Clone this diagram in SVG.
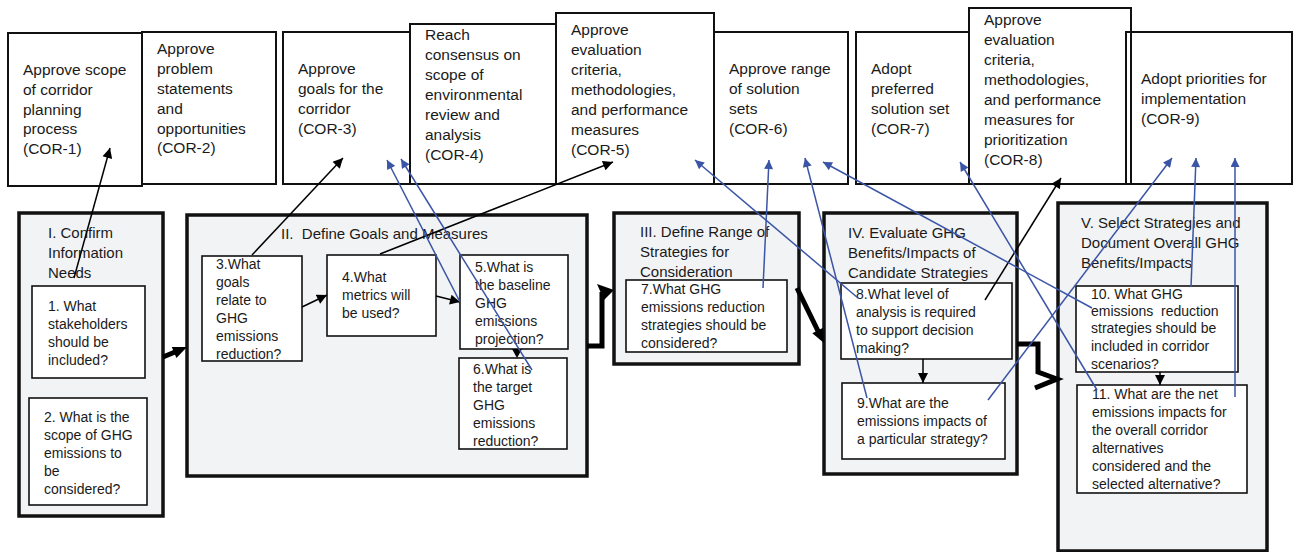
<svg xmlns="http://www.w3.org/2000/svg" width="1295" height="552" viewBox="0 0 1295 552">
  <style>
    text { font-family: "Liberation Sans", Arial, sans-serif; fill: #1a1a1a; }
    .top { font-size: 15.5px; }
    .ttl { font-size: 15px; }
    .q { font-size: 14px; }
    .cor { fill: none; stroke: #111; stroke-width: 2; }
    .phase { fill: #f2f3f5; stroke: #111; stroke-width: 3.5; }
    .qbox { fill: #fff; stroke: #111; stroke-width: 1.6; }
    .blk { fill: none; stroke: #000; stroke-width: 1.5; }
    .blu { fill: none; stroke: #3b55a6; stroke-width: 1.5; }
    .flow { fill: none; stroke: #000; stroke-width: 5; stroke-linejoin: miter; }
  </style>
  <defs>
    <marker id="ahK" viewBox="0 0 10 10" refX="10" refY="5" markerWidth="11" markerHeight="10" markerUnits="userSpaceOnUse" orient="auto">
      <path d="M0,0 L10,5 L0,10 z" fill="#000"/>
    </marker>
    <marker id="ahB" viewBox="0 0 10 10" refX="10" refY="5" markerWidth="11" markerHeight="9" markerUnits="userSpaceOnUse" orient="auto">
      <path d="M0,0 L10,5 L0,10 z" fill="#3b55a6"/>
    </marker>
  </defs>

  <!-- Corridor decision points -->
  <g id="cor1">
    <rect class="cor" x="8" y="33" width="134" height="153"/>
    <text class="top"><tspan x="23" y="75">Approve scope</tspan><tspan x="23" y="95">of corridor</tspan><tspan x="23" y="115">planning</tspan><tspan x="23" y="134">process</tspan><tspan x="23" y="154">(COR-1)</tspan></text>
  </g>
  <g id="cor2">
    <rect class="cor" x="142" y="32" width="134" height="152"/>
    <text class="top"><tspan x="157" y="54">Approve</tspan><tspan x="157" y="74">problem</tspan><tspan x="157" y="94">statements</tspan><tspan x="157" y="114">and</tspan><tspan x="157" y="134">opportunities</tspan><tspan x="157" y="153">(COR-2)</tspan></text>
  </g>
  <g id="cor3">
    <rect class="cor" x="283" y="32" width="127" height="152"/>
    <text class="top"><tspan x="298" y="74">Approve</tspan><tspan x="298" y="94">goals for the</tspan><tspan x="298" y="114">corridor</tspan><tspan x="298" y="134">(COR-3)</tspan></text>
  </g>
  <g id="cor4">
    <rect class="cor" x="410" y="24" width="146" height="160"/>
    <text class="top"><tspan x="425" y="40">Reach</tspan><tspan x="425" y="60">consensus on</tspan><tspan x="425" y="80">scope of</tspan><tspan x="425" y="100">environmental</tspan><tspan x="425" y="120">review and</tspan><tspan x="425" y="140">analysis</tspan><tspan x="425" y="160">(COR-4)</tspan></text>
  </g>
  <g id="cor5">
    <rect class="cor" x="556" y="13" width="158" height="171"/>
    <text class="top"><tspan x="571" y="35">Approve</tspan><tspan x="571" y="55">evaluation</tspan><tspan x="571" y="75">criteria,</tspan><tspan x="571" y="95">methodologies,</tspan><tspan x="571" y="115">and performance</tspan><tspan x="571" y="135">measures</tspan><tspan x="571" y="155">(COR-5)</tspan></text>
  </g>
  <g id="cor6">
    <rect class="cor" x="714" y="32" width="134" height="152"/>
    <text class="top"><tspan x="729" y="74">Approve range</tspan><tspan x="729" y="94">of solution</tspan><tspan x="729" y="114">sets</tspan><tspan x="729" y="134">(COR-6)</tspan></text>
  </g>
  <g id="cor7">
    <rect class="cor" x="856" y="32" width="113" height="152"/>
    <text class="top"><tspan x="871" y="74">Adopt</tspan><tspan x="871" y="94">preferred</tspan><tspan x="871" y="114">solution set</tspan><tspan x="871" y="134">(COR-7)</tspan></text>
  </g>
  <g id="cor8">
    <rect class="cor" x="969" y="8" width="162" height="176"/>
    <text class="top"><tspan x="984" y="25">Approve</tspan><tspan x="984" y="45">evaluation</tspan><tspan x="984" y="65">criteria,</tspan><tspan x="984" y="85">methodologies,</tspan><tspan x="984" y="105">and performance</tspan><tspan x="984" y="125">measures for</tspan><tspan x="984" y="145">prioritization</tspan><tspan x="984" y="165">(COR-8)</tspan></text>
  </g>
  <g id="cor9">
    <rect class="cor" x="1126" y="32" width="166" height="152"/>
    <text class="top"><tspan x="1141" y="84">Adopt priorities for</tspan><tspan x="1141" y="104">implementation</tspan><tspan x="1141" y="124">(COR-9)</tspan></text>
  </g>

  <!-- Phase I -->
  <g id="phase1">
    <rect class="phase" x="19" y="213" width="144" height="303"/>
    <text class="ttl"><tspan x="48" y="238">I.  Confirm</tspan><tspan x="48" y="258">Information</tspan><tspan x="48" y="278">Needs</tspan></text>
  </g>
  <g id="q1">
    <rect class="qbox" x="32" y="286" width="113" height="92"/>
    <text class="q"><tspan x="48" y="311">1. What</tspan><tspan x="48" y="329">stakeholders</tspan><tspan x="48" y="347">should be</tspan><tspan x="48" y="365">included?</tspan></text>
  </g>
  <g id="q2">
    <rect class="qbox" x="29" y="398" width="118" height="107"/>
    <text class="q"><tspan x="44" y="422">2. What is the</tspan><tspan x="44" y="440">scope of GHG</tspan><tspan x="44" y="458">emissions to</tspan><tspan x="44" y="476">be</tspan><tspan x="44" y="494">considered?</tspan></text>
  </g>

  <!-- Phase II -->
  <g id="phase2">
    <rect class="phase" x="187" y="215" width="400" height="261"/>
    <text class="ttl" x="281" y="239" xml:space="preserve">II.  Define Goals and Measures</text>
  </g>
  <g id="q3">
    <rect class="qbox" x="202" y="256" width="100" height="105"/>
    <text class="q"><tspan x="216" y="269">3.What</tspan><tspan x="216" y="287">goals</tspan><tspan x="216" y="305">relate to</tspan><tspan x="216" y="323">GHG</tspan><tspan x="216" y="341">emissions</tspan><tspan x="216" y="359">reduction?</tspan></text>
  </g>
  <g id="q4">
    <rect class="qbox" x="327" y="255" width="109" height="81"/>
    <text class="q"><tspan x="342" y="282">4.What</tspan><tspan x="342" y="300">metrics will</tspan><tspan x="342" y="318">be used?</tspan></text>
  </g>
  <g id="q5">
    <rect class="qbox" x="460" y="255" width="108" height="94"/>
    <text class="q"><tspan x="475" y="272">5.What is</tspan><tspan x="475" y="290">the baseline</tspan><tspan x="475" y="308">GHG</tspan><tspan x="475" y="326">emissions</tspan><tspan x="475" y="344">projection?</tspan></text>
  </g>
  <g id="q6">
    <rect class="qbox" x="459" y="358" width="108" height="91"/>
    <text class="q"><tspan x="473" y="374">6.What is</tspan><tspan x="473" y="392">the target</tspan><tspan x="473" y="410">GHG</tspan><tspan x="473" y="428">emissions</tspan><tspan x="473" y="446">reduction?</tspan></text>
  </g>

  <!-- Phase III -->
  <g id="phase3">
    <rect class="phase" x="614" y="213" width="185" height="151"/>
    <text class="ttl"><tspan x="640" y="237">III. Define Range of</tspan><tspan x="640" y="257">Strategies for</tspan><tspan x="640" y="277">Consideration</tspan></text>
  </g>
  <g id="q7">
    <rect class="qbox" x="626" y="280" width="161" height="72"/>
    <text class="q"><tspan x="641" y="294">7.What GHG</tspan><tspan x="641" y="312">emissions reduction</tspan><tspan x="641" y="330">strategies should be</tspan><tspan x="641" y="348">considered?</tspan></text>
  </g>

  <!-- Phase IV -->
  <g id="phase4">
    <rect class="phase" x="824" y="213" width="193" height="261"/>
    <text class="ttl"><tspan x="848" y="238">IV. Evaluate GHG</tspan><tspan x="848" y="258">Benefits/Impacts of</tspan><tspan x="848" y="278">Candidate Strategies</tspan></text>
  </g>
  <g id="q8">
    <rect class="qbox" x="841" y="283" width="171" height="76"/>
    <text class="q"><tspan x="856" y="299">8.What level of</tspan><tspan x="856" y="317">analysis is required</tspan><tspan x="856" y="335">to support decision</tspan><tspan x="856" y="353">making?</tspan></text>
  </g>
  <g id="q9">
    <rect class="qbox" x="842" y="383" width="163" height="76"/>
    <text class="q"><tspan x="857" y="408">9.What are the</tspan><tspan x="857" y="426">emissions impacts of</tspan><tspan x="857" y="444">a particular strategy?</tspan></text>
  </g>

  <!-- Phase V -->
  <g id="phase5">
    <rect class="phase" x="1058" y="203" width="209" height="348"/>
    <text class="ttl"><tspan x="1081" y="228">V. Select Strategies and</tspan><tspan x="1081" y="248">Document Overall GHG</tspan><tspan x="1081" y="268">Benefits/Impacts</tspan></text>
  </g>
  <g id="q10">
    <rect class="qbox" x="1076" y="286" width="162" height="86"/>
    <text class="q"><tspan x="1091" y="299">10. What GHG</tspan><tspan x="1091" y="316" xml:space="preserve">emissions  reduction</tspan><tspan x="1091" y="333">strategies should be</tspan><tspan x="1091" y="351">included in corridor</tspan><tspan x="1091" y="369">scenarios?</tspan></text>
  </g>
  <g id="q11">
    <rect class="qbox" x="1077" y="385" width="170" height="108"/>
    <text class="q"><tspan x="1092" y="399">11. What are the net</tspan><tspan x="1092" y="417">emissions impacts for</tspan><tspan x="1092" y="435">the overall corridor</tspan><tspan x="1092" y="453">alternatives</tspan><tspan x="1092" y="471">considered and the</tspan><tspan x="1092" y="489">selected alternative?</tspan></text>
  </g>

  <!-- Connectors -->
  <g id="connectors">
    <!-- phase-to-phase flow -->
    <line class="flow" x1="163" y1="357" x2="175" y2="352"/>
    <polygon points="187,347 176.4,357.9 171.8,346.9" fill="#000"/>
    <path class="flow" d="M587,346 H602 V292"/>
    <polygon points="597,284 614,290 604,300" fill="#000"/>
    <line class="flow" x1="797" y1="288" x2="818" y2="331"/>
    <polygon points="824,343 823.1,327.8 812.3,333.2" fill="#000"/>
    <path class="flow" d="M1017,344 H1038 V372 L1057,379 L1035,388"/>

    <!-- steps inside phases -->
    <line class="blk" x1="302" y1="307" x2="327" y2="295" marker-end="url(#ahK)"/>
    <line class="blk" x1="436" y1="296" x2="460" y2="302" marker-end="url(#ahK)"/>
    <polygon points="512,349 522,349 517,358" fill="#000"/>
    <line class="blk" x1="923" y1="359" x2="923" y2="383" marker-end="url(#ahK)"/>
    <line class="blk" x1="1160" y1="372" x2="1160" y2="385" marker-end="url(#ahK)"/>

    <!-- questions to decision points -->
    <line class="blk" x1="74" y1="278" x2="110" y2="148" marker-end="url(#ahK)"/>
    <line class="blk" x1="252" y1="255" x2="343" y2="158" marker-end="url(#ahK)"/>
    <line class="blk" x1="380" y1="254" x2="613" y2="162" marker-end="url(#ahK)"/>
    <line class="blk" x1="985" y1="300" x2="1061" y2="178" marker-end="url(#ahK)"/>

    <line class="blu" x1="460" y1="302" x2="387" y2="160" marker-end="url(#ahB)"/>
    <line class="blu" x1="532" y1="370" x2="401" y2="159" marker-end="url(#ahB)"/>
    <line class="blu" x1="858" y1="298" x2="695" y2="160" marker-end="url(#ahB)"/>
    <line class="blu" x1="763" y1="288" x2="769" y2="160" marker-end="url(#ahB)"/>
    <line class="blu" x1="867" y1="398" x2="805" y2="158" marker-end="url(#ahB)"/>
    <line class="blu" x1="1092" y1="308" x2="823" y2="162" marker-end="url(#ahB)"/>
    <line class="blu" x1="1097" y1="390" x2="960" y2="162" marker-end="url(#ahB)"/>
    <line class="blu" x1="988" y1="400" x2="1172" y2="158" marker-end="url(#ahB)"/>
    <line class="blu" x1="1191" y1="287" x2="1196" y2="158" marker-end="url(#ahB)"/>
    <line class="blu" x1="1235" y1="397" x2="1235" y2="158" marker-end="url(#ahB)"/>
  </g>
</svg>
